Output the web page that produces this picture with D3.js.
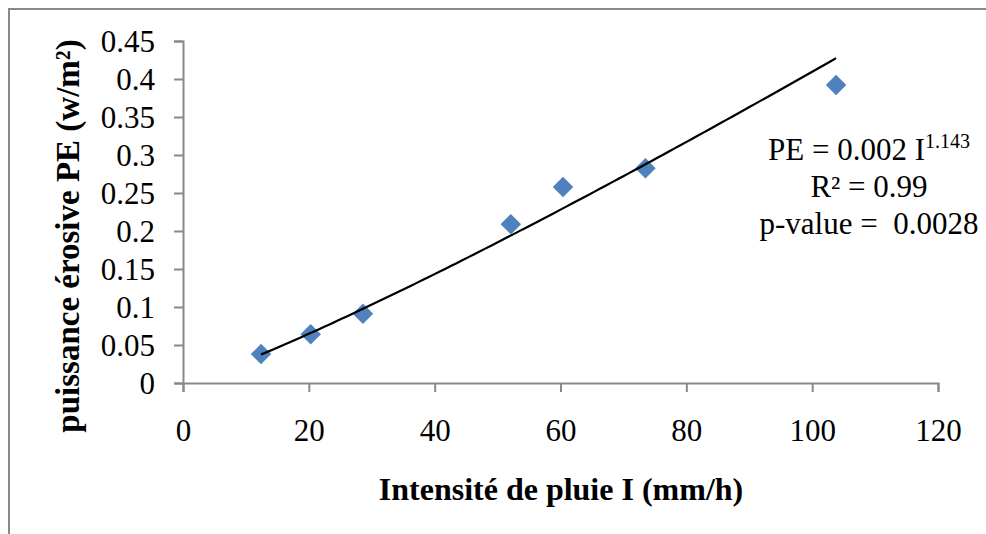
<!DOCTYPE html>
<html>
<head>
<meta charset="utf-8">
<script src="https://cdn.jsdelivr.net/npm/d3@7"></script>
<style>
  html, body { margin: 0; padding: 0; background: #fff; }
  svg { display: block; }
  text { font-family: "Liberation Serif", "Times New Roman", serif; fill: #000; white-space: pre; }
</style>
</head>
<body>
<svg id="chart" width="986" height="534"></svg>
<script>
// Rainfall intensity (mm/h) and erosive power (W/m²)
const intensity = [12.4, 20.3, 28.6, 52.1, 60.4, 73.5, 103.8];
const erosivePower = [0.038, 0.064, 0.091, 0.209, 0.258, 0.2825, 0.392];

const xTicks = [0, 20, 40, 60, 80, 100, 120];
const yTicks = [0, 0.05, 0.1, 0.15, 0.2, 0.25, 0.3, 0.35, 0.4, 0.45];

const xTitle = "Intensité de pluie I (mm/h)";
const yTitle = "puissance érosive PE (w/m²)";
const fitLines = ["R² = 0.99", "p-value =  0.0028"];

const svg = d3.select("#chart");
const margin = { left: 183, right: 48, top: 41, bottom: 151 };
const W = 986, H = 534;

const x = d3.scaleLinear().domain([0, 120]).range([margin.left, W - margin.right]);
const y = d3.scaleLinear().domain([0, 0.45]).range([H - margin.bottom, margin.top]);

const grey = "#898989";

// outer chart frame
svg.append("path")
  .attr("d", `M9,${H + 5} L9,9 L${W + 5},9`)
  .attr("fill", "none").attr("stroke", grey).attr("stroke-width", 2);

// axes
const xAxis = svg.append("g")
  .attr("transform", `translate(0,${y(0)})`)
  .call(d3.axisBottom(x).tickValues(xTicks).tickSize(9).tickPadding(27).tickFormat(d3.format("d")));
const yAxis = svg.append("g")
  .attr("transform", `translate(${x(0)},0)`)
  .call(d3.axisLeft(y).tickValues(yTicks).tickSize(9).tickPadding(19).tickFormat(d => d === 0 ? "0" : String(+d.toFixed(2))));

[xAxis, yAxis].forEach(g => {
  g.select(".domain").attr("stroke", grey).attr("stroke-width", 2);
  g.selectAll(".tick line").attr("stroke", grey).attr("stroke-width", 2);
  g.selectAll(".tick text")
    .style("font-family", '"Liberation Serif", "Times New Roman", serif')
    .style("font-size", "31px").attr("fill", "#000");
});
yAxis.selectAll(".tick text").attr("dy", "0.34em");
xAxis.selectAll(".tick text").attr("dy", "0.71em");

// power-law fit PE = a·I^b by least squares in log-log space
const lx = intensity.map(Math.log), ly = erosivePower.map(Math.log);
const mx = d3.mean(lx), my = d3.mean(ly);
const b = d3.sum(lx, (v, i) => (v - mx) * (ly[i] - my)) / d3.sum(lx, v => (v - mx) ** 2);
const a = Math.exp(my - b * mx);
const [i0, i1] = d3.extent(intensity);
const curve = d3.range(0, 101).map(k => {
  const I = i0 + (i1 - i0) * k / 100;
  return [I, a * Math.pow(I, b)];
});

// data markers (diamonds)
const side = 14.5;
svg.append("g").selectAll("path")
  .data(intensity.map((v, i) => [v, erosivePower[i]]))
  .join("path")
  .attr("d", d3.symbol().type(d3.symbolSquare).size(side * side))
  .attr("transform", d => `translate(${x(d[0])},${y(d[1])}) rotate(45)`)
  .attr("fill", "#4F81BD");

svg.append("path")
  .datum(curve)
  .attr("d", d3.line().x(d => x(d[0])).y(d => y(d[1])))
  .attr("fill", "none").attr("stroke", "#000").attr("stroke-width", 2.2);

// fit equation and statistics
const eq = svg.append("text").attr("x", 869).attr("y", 160)
  .attr("text-anchor", "middle").style("font-size", "31px");
eq.append("tspan").text("PE = 0.002 I");
eq.append("tspan").text("1.143").style("font-size", "20px").attr("dy", -12);
fitLines.forEach((t, i) => {
  svg.append("text").attr("x", 869).attr("y", 197 + i * 36.5)
    .attr("text-anchor", "middle").style("font-size", "31px").text(t);
});

// axis titles
svg.append("text").attr("x", 561).attr("y", 500)
  .attr("text-anchor", "middle").style("font-size", "32px").style("font-weight", "bold")
  .text(xTitle);
svg.append("text")
  .attr("transform", `translate(79,236) rotate(-90)`)
  .attr("text-anchor", "middle").style("font-size", "33px").style("font-weight", "bold")
  .text(yTitle);
</script>
</body>
</html>
